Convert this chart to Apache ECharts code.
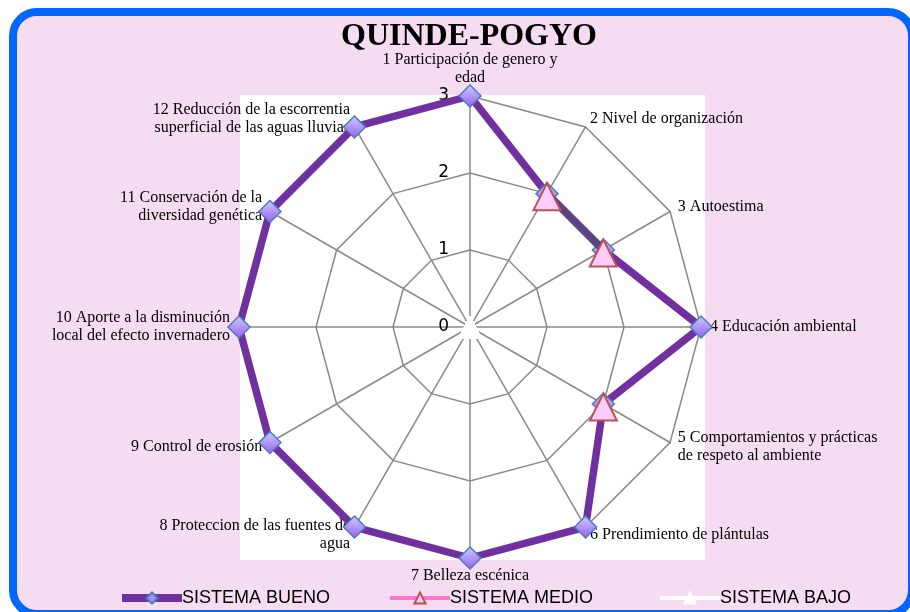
<!DOCTYPE html>
<html>
<head>
<meta charset="utf-8">
<script src="https://cdn.jsdelivr.net/npm/echarts@6/dist/echarts.min.js"></script>
<style>
  html, body { margin: 0; padding: 0; background: #fff; }
  #chart { width: 910px; height: 612px; }
</style>
</head>
<body>
<div id="chart"></div>
<script>
const indicators = [
  '1 Participación de genero y\nedad',
  '2 Nivel de organización',
  '3 Autoestima',
  '4 Educación ambiental',
  '5 Comportamientos y prácticas\nde respeto al ambiente',
  '6 Prendimiento de plántulas',
  '7 Belleza escénica',
  '8 Proteccion de las fuentes de\nagua',
  '9 Control de erosión',
  '10 Aporte a la disminución\nlocal del efecto invernadero',
  '11 Conservación de la\ndiversidad genética',
  '12 Reducción de la escorrentia\nsuperficial de las aguas lluvias'
]
const bueno = [3, 2, 2, 3, 2, 3, 3, 3, 3, 3, 3, 3]
const medio = [null, 2, 2, null, 2, null, null, null, null, null, null, null]
const bajo = [0, 0, 0, 0, 0, 0, 0, 0, 0, 0, 0, 0]
const tickValues = [0, 1, 2, 3]
const seriesNames = ['SISTEMA BUENO', 'SISTEMA MEDIO', 'SISTEMA BAJO']

const myChart = echarts.init(document.getElementById('chart'))

const center = [470, 327]
const radius = 231

// echarts radar runs counter-clockwise, the original runs clockwise
const order = [0].concat(indicators.map((_, i) => indicators.length - 1 - i).slice(0, indicators.length - 1))
const clockwise = arr => order.map(i => arr[i])

const diamondFill = new echarts.graphic.LinearGradient(0, 0, 0, 1, [
  { offset: 0, color: '#c8d0ff' },
  { offset: 1, color: '#9a5cf0' }
])

const legendBase = {
  top: 589,
  padding: 0,
  itemWidth: 60,
  itemHeight: 14,
  itemGap: 0,
  selectedMode: false,
  textStyle: { fontFamily: 'Liberation Sans Narrow, Liberation Sans', fontSize: 18, color: '#000', padding: [0, 0, 0, -5] }
}

option = {
  animation: false,
  backgroundColor: '#fff',
  graphic: [
    {
      type: 'rect', z: -10,
      shape: { x: 13, y: 12, width: 899, height: 602, r: 24 },
      style: { fill: '#f6dcf0', stroke: '#0066ff', lineWidth: 8 }
    },
    {
      type: 'rect', z: -9,
      shape: { x: 240, y: 95, width: 465, height: 465 },
      style: { fill: '#ffffff' }
    }
  ],
  title: {
    text: 'QUINDE-POGYO',
    left: 341,
    top: 21,
    padding: 0,
    textStyle: { fontFamily: 'Liberation Serif', fontWeight: 'bold', fontSize: 32, color: '#000' }
  },
  legend: [
    Object.assign({}, legendBase, { left: 118, data: [seriesNames[0]], lineStyle: { width: 8 } }),
    Object.assign({}, legendBase, { left: 388, data: [seriesNames[1]], lineStyle: { width: 4 } }),
    Object.assign({}, legendBase, { left: 658, data: [seriesNames[2]], lineStyle: { width: 4 } })
  ],
  grid: { show: false, left: 0, top: 0, width: 1, height: 1 },
  xAxis: { show: false, type: 'value' },
  yAxis: { show: false, type: 'value' },
  polar: { center: center, radius: radius },
  angleAxis: { show: false, type: 'value', startAngle: 90, min: 0, max: indicators.length },
  radiusAxis: {
    type: 'value',
    min: 0, max: 3, interval: 1,
    axisLine: { show: false },
    axisTick: { show: false },
    splitLine: { show: false },
    axisLabel: {
      margin: 21,
      color: '#000',
      fontFamily: 'DejaVu Sans',
      fontSize: 17,
      formatter: v => (tickValues.indexOf(v) >= 0 ? String(v) : '')
    }
  },
  radar: {
    center: center,
    radius: radius,
    startAngle: 90,
    splitNumber: 3,
    shape: 'polygon',
    nameGap: 9,
    indicator: clockwise(indicators).map(name => ({ name: name, min: 0, max: 3 })),
    axisName: { color: '#000', fontFamily: 'Liberation Serif', fontSize: 16, lineHeight: 18 },
    axisLine: { lineStyle: { color: '#8a8a8a', width: 1.5 } },
    splitLine: { lineStyle: { color: '#8a8a8a', width: 1.5 } },
    splitArea: { show: false }
  },
  series: [
    // empty line series only give the legend its line + marker icons
    {
      type: 'line', name: seriesNames[0], data: [], symbol: 'diamond',
      lineStyle: { color: '#7030a0', width: 8 },
      itemStyle: { color: '#a98cf5', borderColor: '#4a7ebb', borderWidth: 1.5 }
    },
    {
      type: 'line', name: seriesNames[1], data: [], symbol: 'triangle',
      lineStyle: { color: '#ff77cc', width: 4 },
      itemStyle: { color: '#ffccff', borderColor: '#c0504d', borderWidth: 1.5 }
    },
    {
      type: 'line', name: seriesNames[2], data: [], symbol: 'triangle',
      lineStyle: { color: '#ffffff', width: 4 },
      itemStyle: { color: '#ffffff', borderColor: '#ffffff', borderWidth: 1 }
    },
    {
      type: 'radar', name: seriesNames[2], z: 2,
      symbol: 'triangle', symbolSize: 22,
      lineStyle: { color: '#ffffff', width: 4 },
      itemStyle: { color: '#ffffff', borderColor: '#ffffff' },
      data: [{ value: clockwise(bajo) }]
    },
    {
      type: 'radar', name: seriesNames[0], z: 3,
      symbol: 'diamond', symbolSize: 22,
      lineStyle: { color: '#7030a0', width: 7.5 },
      itemStyle: { color: diamondFill, borderColor: '#4a7ebb', borderWidth: 1.5 },
      data: [{ value: clockwise(bueno) }]
    },
    {
      type: 'line', name: seriesNames[1], coordinateSystem: 'polar', z: 4,
      showSymbol: false, connectNulls: false, silent: true,
      lineStyle: { color: '#5c4482', width: 7.5 },
      data: medio.map((v, i) => [v === null ? '-' : v, i])
    },
    {
      type: 'scatter', name: seriesNames[1], coordinateSystem: 'polar', z: 5,
      symbol: 'triangle', symbolSize: 27, symbolOffset: [0, 3],
      itemStyle: { color: '#ffccff', borderColor: '#c0504d', borderWidth: 2, opacity: 1 },
      data: medio.map((v, i) => [v, i]).filter(d => d[0] !== null)
    }
  ]
}

myChart.setOption(option)
</script>
</body>
</html>
